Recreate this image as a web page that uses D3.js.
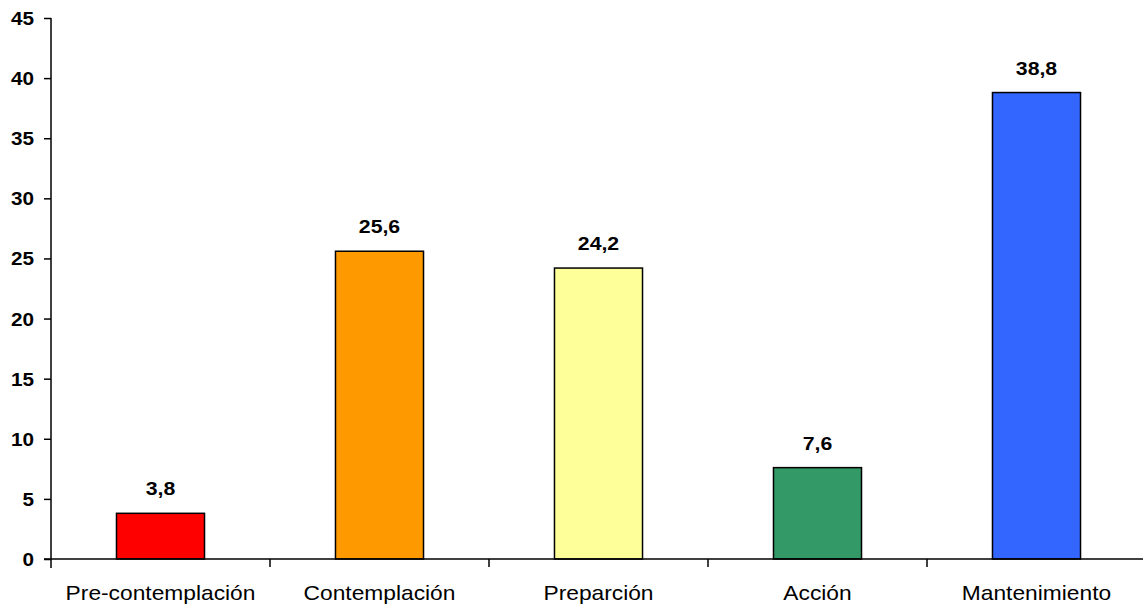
<!DOCTYPE html>
<html>
<head>
<meta charset="utf-8">
<script src="https://cdn.jsdelivr.net/npm/d3@7"></script>
<style>
  html, body { margin: 0; padding: 0; background: #fff; }
  svg { display: block; font-family: Arial, "Liberation Sans", sans-serif; }
</style>
</head>
<body>
<svg id="chart" width="1143" height="607"></svg>
<script>
// Stages of change and percentage of respondents in each
const categories = ["Pre-contemplación", "Contemplación", "Preparción", "Acción", "Mantenimiento"];
const values = [3.8, 25.6, 24.2, 7.6, 38.8];
const valueLabels = ["3,8", "25,6", "24,2", "7,6", "38,8"];
const barColors = ["#ff0000", "#ff9900", "#ffff99", "#339966", "#3366ff"];
const yTicks = [0, 5, 10, 15, 20, 25, 30, 35, 40, 45];

const svg = d3.select("#chart");
const stretch = 1.15; // text is drawn slightly wide

const x = d3.scaleBand()
  .domain(categories)
  .range([51, 1146])
  .paddingInner(0.598)
  .paddingOuter(0.299);

const y = d3.scaleLinear()
  .domain([0, 45])
  .range([559, 18]);

// Bars
svg.append("g")
  .selectAll("rect")
  .data(values)
  .join("rect")
  .attr("x", (d, i) => x(categories[i]))
  .attr("y", d => y(d))
  .attr("width", x.bandwidth())
  .attr("height", d => y(0) - y(d))
  .attr("fill", (d, i) => barColors[i])
  .attr("stroke", "#000")
  .attr("stroke-width", 1.5);

// Value labels above bars
svg.append("g")
  .selectAll("text")
  .data(values)
  .join("text")
  .attr("transform", (d, i) => `translate(${x(categories[i]) + x.bandwidth() / 2},${y(d) - 18}) scale(${stretch},1)`)
  .attr("text-anchor", "middle")
  .attr("font-size", 18.5)
  .attr("font-weight", "bold")
  .attr("fill", "#000")
  .text((d, i) => valueLabels[i]);

// Y axis
const yAxis = svg.append("g")
  .attr("transform", "translate(51,0)")
  .call(d3.axisLeft(y).tickValues(yTicks).tickSize(7).tickSizeOuter(0));
yAxis.select(".domain").attr("stroke", "#000").attr("stroke-width", 1.5)
  .attr("d", `M0,${y(45)}V${y(0) + 9}`);
yAxis.selectAll(".tick line").attr("stroke", "#000").attr("stroke-width", 1.5);
yAxis.selectAll(".tick text")
  .attr("x", -17 / stretch)
  .attr("dy", "0.36em")
  .attr("transform", `scale(${stretch},1)`)
  .attr("font-size", 18)
  .attr("font-weight", "bold")
  .attr("font-family", "Arial, 'Liberation Sans', sans-serif")
  .attr("fill", "#000");

// X axis
const xAxis = svg.append("g")
  .attr("transform", `translate(0,${y(0)})`)
  .call(d3.axisBottom(x).tickSize(0).tickSizeOuter(0));
xAxis.select(".domain").attr("stroke", "#000").attr("stroke-width", 1.5)
  .attr("d", `M${51 - 7},0H1146`);
xAxis.selectAll(".tick text")
  .attr("y", 0)
  .attr("dy", 0)
  .attr("transform", `translate(0,41) scale(${stretch},1)`)
  .attr("font-size", 19.8)
  .attr("font-family", "Arial, 'Liberation Sans', sans-serif")
  .attr("fill", "#000");

// Tick marks between categories
xAxis.append("g")
  .selectAll("line")
  .data(categories.slice(0, -1))
  .join("line")
  .attr("x1", d => x(d) - x.step() * x.paddingOuter() + x.step())
  .attr("x2", d => x(d) - x.step() * x.paddingOuter() + x.step())
  .attr("y1", 0)
  .attr("y2", 8)
  .attr("stroke", "#000")
  .attr("stroke-width", 1.5);
</script>
</body>
</html>
